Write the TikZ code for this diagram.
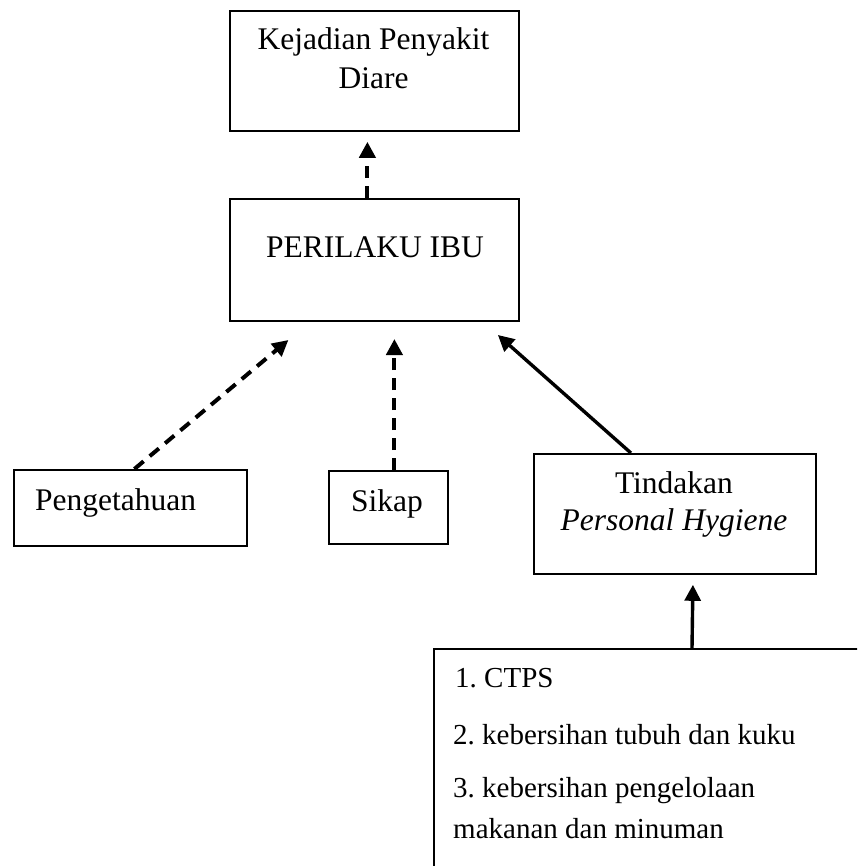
\documentclass[tikz,border=0pt]{standalone}
\usepackage{fontspec}
\setmainfont{Liberation Serif}
\usetikzlibrary{arrows.meta, positioning, calc}
\frenchspacing

\begin{document}
\begin{tikzpicture}[
    x=1pt, y=-1pt,
    box/.style={rectangle, draw, line width=1.8pt, inner sep=0pt},
    boxtext/.style={anchor=base, inner sep=0pt, font=\fontsize{31.5}{37}\selectfont},
    itemtext/.style={anchor=base west, inner sep=0pt, font=\fontsize{29}{35}\selectfont},
    dasharrow/.style={line width=4pt, dash pattern=on 12pt off 8pt,
                      -{Triangle[length=16pt,width=16pt]}},
    solidarrow/.style={line width=3.4pt, -{Triangle[length=16pt,width=16pt]}}
]
    \useasboundingbox (0,0) rectangle (857,866);
    \clip (0,0) rectangle (857,866);

    \node[box, anchor=north west, minimum width=289pt, minimum height=120pt] (kejadian) at (229,10) {};
    \node[boxtext] (kejadian1) at (373.5,49.5) {Kejadian Penyakit};
    \node[boxtext] (kejadian2) at (373.5,88.5) {Diare};

    \node[box, anchor=north west, minimum width=289pt, minimum height=122pt] (perilaku) at (229,198) {};
    \node[boxtext] (perilakutext) at (375,257.5) {PERILAKU IBU};

    \node[box, anchor=north west, minimum width=233pt, minimum height=76pt] (pengetahuan) at (13,469) {};
    \node[boxtext, anchor=base west] (pengetahuantext) at (35,510) {Pengetahuan};

    \node[box, anchor=north west, minimum width=119pt, minimum height=73pt] (sikap) at (328,470) {};
    \node[boxtext] (sikaptext) at (387,511) {Sikap};

    \node[box, anchor=north west, minimum width=282pt, minimum height=120pt] (tindakan) at (533,453) {};
    \node[boxtext] (tindakan1) at (674,493) {Tindakan};
    \node[boxtext] (tindakan2) at (674,530) {\textit{Personal Hygiene}};

    % list box runs off the page
    \node[box, anchor=north west, minimum width=480pt, minimum height=260pt] (items) at (433,648) {};
    \node[itemtext] (item1) at (455,687) {1. CTPS};
    \node[itemtext] (item2) at (453,744) {2. kebersihan tubuh dan kuku};
    \node[itemtext] (item3) at (453,797) {3. kebersihan pengelolaan};
    \node[itemtext] (item4) at (453,838) {makanan dan minuman};

    \draw[dasharrow] ($(perilaku.north)+(-7,0)$) -- ($(kejadian.south)+(-7,10)$);
    \draw[dasharrow] ($(pengetahuan.north)+(4,0)$) -- ++(154,-129);
    \draw[dasharrow] ($(sikap.north)+(6,0)$) -- ++(0,-131);
    \draw[solidarrow] ($(tindakan.north)+(-44,0)$) -- ++(-133,-118);
    \draw[solidarrow] ($(items.north west)+(259,0)$) -- ($(tindakan.south)+(18,10)$);
\end{tikzpicture}
\end{document}
